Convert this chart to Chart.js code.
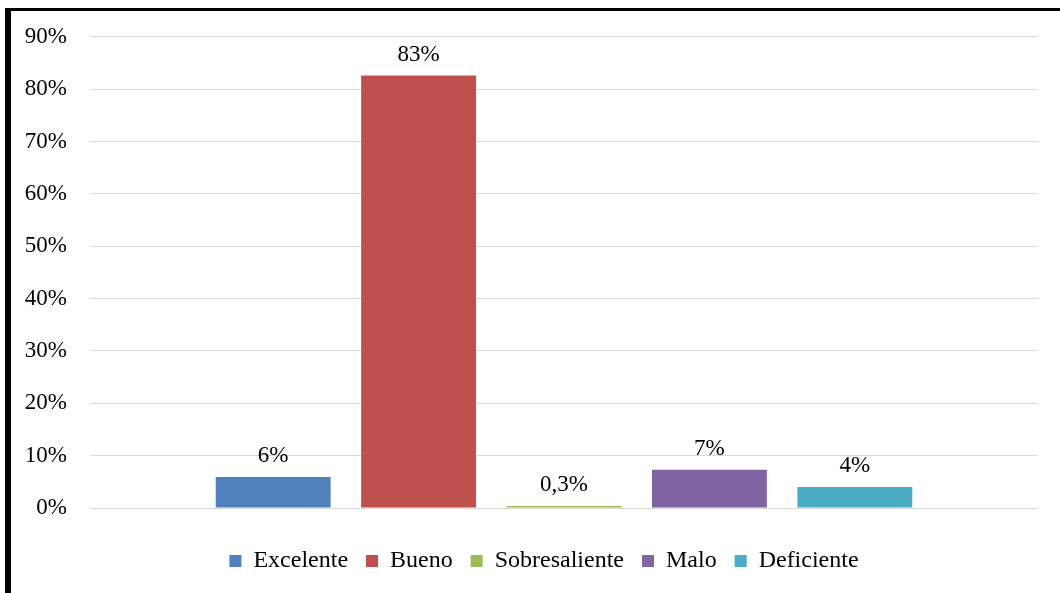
<!DOCTYPE html>
<html>
<head>
<meta charset="utf-8">
<script src="https://cdn.jsdelivr.net/npm/chart.js@4"></script>
<style>
  html, body { margin: 0; padding: 0; background: #fff; }
  #wrap { position: relative; width: 1060px; height: 593px; }
  #frame {
    position: absolute; left: 5px; top: 8px; right: 0; bottom: 0;
    border-left: 6px solid #000; border-top: 3px solid #000;
    pointer-events: none;
  }
</style>
</head>
<body>
<div id="wrap">
  <canvas id="chart" width="1060" height="593"></canvas>
  <div id="frame"></div>
</div>
<script>
const categories = ['Excelente', 'Bueno', 'Sobresaliente', 'Malo', 'Deficiente'];
const values = [5.9, 82.6, 0.3, 7.3, 4.0];
const valueLabels = ['6%', '83%', '0,3%', '7%', '4%'];
const colors = ['#4F81BD', '#C0504D', '#9BBB59', '#8064A2', '#4BACC6'];
const yTicks = [0, 10, 20, 30, 40, 50, 60, 70, 80, 90];

const font = 'Liberation Serif';

// draws the number above each bar
const barLabels = {
  id: 'barLabels',
  afterDatasetsDraw(chart) {
    const ctx = chart.ctx;
    ctx.save();
    ctx.font = '23px "' + font + '"';
    ctx.fillStyle = '#000';
    ctx.textAlign = 'center';
    ctx.textBaseline = 'alphabetic';
    chart.data.datasets.forEach((ds, i) => {
      const bar = chart.getDatasetMeta(i).data[0];
      ctx.fillText(valueLabels[i], bar.x, bar.y - 15);
    });
    ctx.restore();
  }
};

// legend sits a little right of the plot centre in the original
const legendShift = {
  id: 'legendShift',
  afterLayout(chart) {
    chart.legend.left += 25;
    chart.legend.right += 25;
  }
};

new Chart(document.getElementById('chart'), {
  type: 'bar',
  data: {
    labels: [''],
    datasets: categories.map((name, i) => ({
      label: name,
      data: [values[i]],
      backgroundColor: colors[i],
      categoryPercentage: 0.767,
      barPercentage: 0.79,
      minBarLength: 2
    }))
  },
  options: {
    responsive: false,
    animation: false,
    layout: { padding: { left: 0, right: 22, top: 30, bottom: 10 } },
    scales: {
      x: {
        grid: { display: false },
        border: { display: false },
        ticks: { display: false },
        afterFit: scale => { scale.height = 23; }
      },
      y: {
        min: 0,
        max: 90,
        afterBuildTicks: scale => { scale.ticks = yTicks.map(v => ({ value: v })); },
        afterFit: scale => { scale.width = 90; },
        grid: { color: '#d9d9d9', lineWidth: 1, drawTicks: false },
        border: { display: false },
        ticks: {
          padding: 23,
          color: '#000',
          font: { family: font, size: 23 },
          callback: v => v + '%'
        }
      }
    },
    plugins: {
      legend: {
        position: 'bottom',
        labels: {
          boxWidth: 12,
          boxHeight: 12,
          padding: 18,
          color: '#000',
          font: { family: font, size: 24 }
        }
      },
      tooltip: { enabled: false }
    }
  },
  plugins: [barLabels, legendShift]
});
</script>
</body>
</html>
